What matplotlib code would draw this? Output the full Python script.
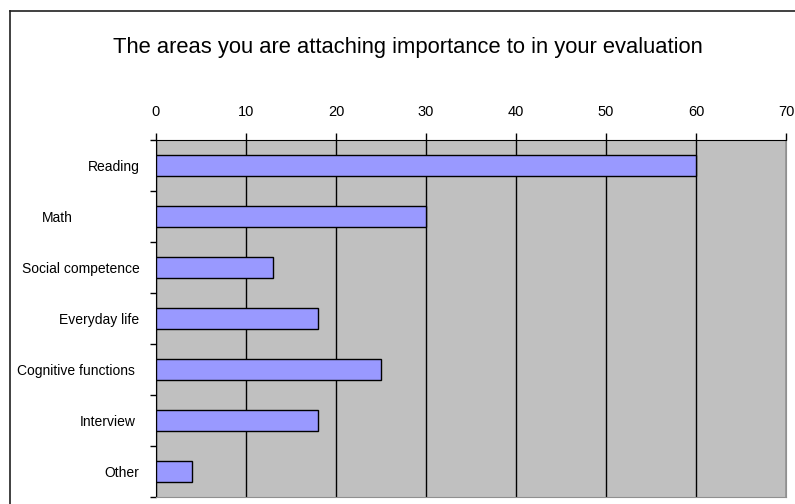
import matplotlib.pyplot as plt
from matplotlib.lines import Line2D
from matplotlib.transforms import ScaledTranslation

# survey answers: areas given importance in the evaluation
areas = ["Reading", "Math", "Social competence", "Everyday life",
         "Cognitive functions", "Interview", "Other"]
counts = [60, 30, 13, 18, 25, 18, 4]
xticks = [0, 10, 20, 30, 40, 50, 60, 70]

plt.rcParams['font.family'] = ['Liberation Sans Narrow', 'Liberation Sans', 'DejaVu Sans']

fig = plt.figure(figsize=(7.95, 5.04), dpi=100)
fig.patch.set_facecolor('white')

# chart frame (runs off the right and bottom edges)
fig.add_artist(Line2D([10/795, 1], [1 - 11/504, 1 - 11/504], color='#202020', lw=1.2,
                      transform=fig.transFigure))
fig.add_artist(Line2D([10/795, 10/795], [0, 1 - 11/504], color='#202020', lw=1.2,
                      transform=fig.transFigure))

fig.text(408/795, 1 - 48/504, "The areas you are attaching importance to in your evaluation",
         ha='center', va='center', fontsize=15.8, color='black')

ax = fig.add_axes([156/795, 7/504, 630/795, 357/504])
ax.set_facecolor('#C0C0C0')

ypos = list(range(len(areas)))
ax.barh(ypos, counts, height=0.42, color='#9999FF', edgecolor='black', linewidth=1, zorder=3)

ax.set_xlim(0, 70)
ax.set_ylim(len(areas) - 0.5, -0.5)
ax.set_xticks(xticks)
ax.xaxis.tick_top()
ax.tick_params(axis='x', direction='out', length=5, width=1, pad=10, labelsize=10.5, colors='black')
ax.grid(axis='x', color='black', linewidth=1, zorder=1)

ax.set_yticks(ypos)
ax.set_yticklabels(areas)
ax.set_yticks([i - 0.5 for i in range(len(areas) + 1)], minor=True)
ax.tick_params(axis='y', which='major', length=0, pad=12, labelsize=10)
ax.tick_params(axis='y', which='minor', direction='out', length=4, width=1)

for side in ['top', 'left']:
    ax.spines[side].set_color('black')
for side in ['right', 'bottom']:
    ax.spines[side].set_color('#909090')

# a few labels sit further left than the others
shifts = {"Math": -0.67, "Cognitive functions": -0.04, "Interview": -0.04}
fig.canvas.draw()
for lab in ax.get_yticklabels():
    dx = shifts.get(lab.get_text())
    if dx:
        lab.set_transform(lab.get_transform() + ScaledTranslation(dx, 0, fig.dpi_scale_trans))

fig.savefig("out.png", dpi=100)
